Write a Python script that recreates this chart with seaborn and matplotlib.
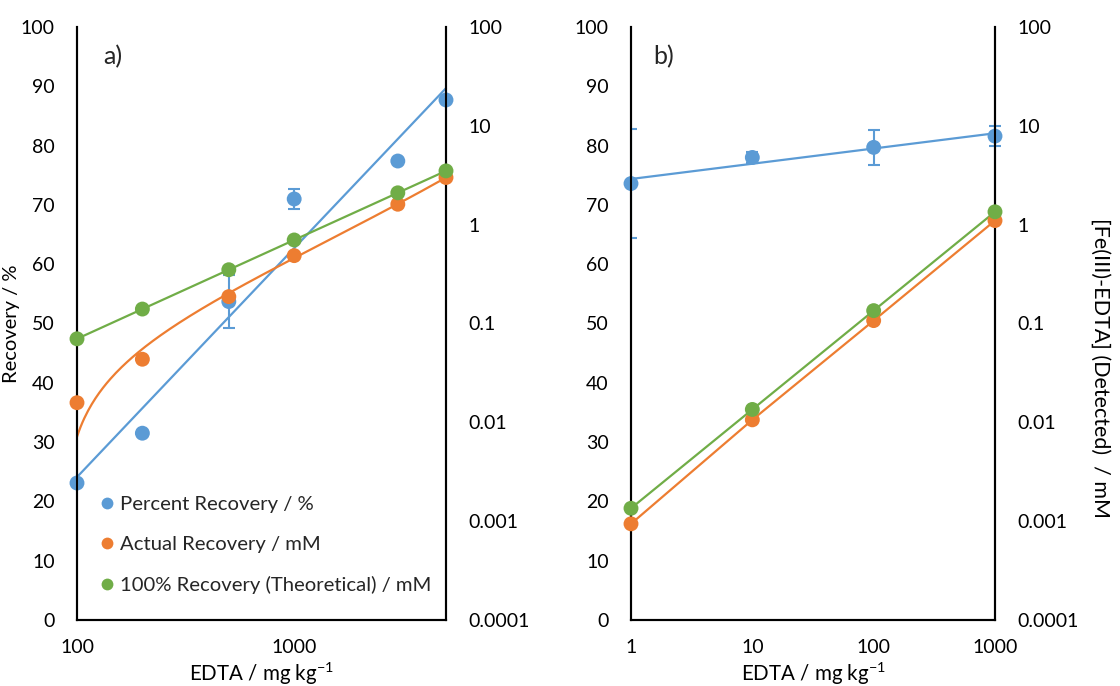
import numpy as np
import matplotlib
matplotlib.use("Agg")
import matplotlib.pyplot as plt
from matplotlib.lines import Line2D
from matplotlib.patches import Rectangle
from matplotlib.ticker import FixedLocator, FuncFormatter, NullLocator
import seaborn as sns

# ---- panel a: EDTA 100-5000 mg/kg ----
edta_a = [100, 200, 500, 1000, 3000, 5000]
pct_a = [23.1, 31.5, 53.7, 71.0, 77.4, 87.7]
pct_err_a = [0, 0, 4.5, 1.7, 0.5, 0]
actual_a = [0.0158, 0.0435, 0.187, 0.486, 1.61, 3.0]
theory_a = [0.070, 0.140, 0.350, 0.700, 2.10, 3.50]

# ---- panel b: EDTA 1-1000 mg/kg ----
edta_b = [1, 10, 100, 1000]
pct_b = [73.6, 78.0, 79.7, 81.6]
pct_err_b = [9.2, 1.0, 3.0, 1.7]
actual_b = [0.00094, 0.0106, 0.107, 1.10]
theory_b = [0.00135, 0.0135, 0.135, 1.35]

left_ticks = list(range(0, 101, 10))
right_ticks = [0.0001, 0.001, 0.01, 0.1, 1, 10, 100]
xticks_a = [100, 1000]
xticks_b = [1, 10, 100, 1000]

BLUE = "#5B9BD5"
ORANGE = "#ED7D31"
GREEN = "#70AD47"

sns.set_theme(style="white")
plt.rcParams["font.family"] = ["Lato", "DejaVu Sans"]
plt.rcParams["mathtext.fontset"] = "custom"
plt.rcParams["mathtext.rm"] = "Lato"
plt.rcParams["mathtext.it"] = "Lato:italic"
FS = 14

fig = plt.figure(figsize=(11.2, 6.86), dpi=100)
W, H = 1120, 686


def make_axes(x0, x1):
    return fig.add_axes([x0 / W, (H - 620) / H, (x1 - x0) / W, 593 / H])


def log_trend(x, y, xs):
    k, c = np.polyfit(np.log(x), y, 1)
    return k * np.log(xs) + c


def style_pair(ax, ax2, xlim, xticks):
    ax.set_xscale("log")
    ax.set_xlim(*xlim)
    ax.set_ylim(0, 100)
    ax.yaxis.set_major_locator(FixedLocator(left_ticks))
    ax.xaxis.set_major_locator(FixedLocator(xticks))
    ax.xaxis.set_minor_locator(NullLocator())
    ax.xaxis.set_major_formatter(FuncFormatter(lambda v, p: f"{v:g}"))
    ax.tick_params(axis="y", length=0, pad=16, labelsize=FS, colors="black")
    ax.tick_params(axis="x", length=0, pad=14, labelsize=FS, colors="black")
    ax2.set_yscale("log")
    ax2.set_ylim(1e-4, 100)
    ax2.yaxis.set_major_locator(FixedLocator(right_ticks))
    ax2.yaxis.set_minor_locator(NullLocator())
    ax2.yaxis.set_major_formatter(FuncFormatter(lambda v, p: f"{v:g}"))
    ax2.tick_params(axis="y", length=0, pad=16, labelsize=FS, colors="black")
    for a in (ax, ax2):
        a.spines["top"].set_visible(False)
        for s in ("left", "right", "bottom"):
            a.spines[s].set_color("black")
            a.spines[s].set_linewidth(1.5)
    ax.set_xlabel("EDTA / mg kg$^{\\mathregular{-1}}$", fontsize=14.8, color="black", labelpad=3)


def draw_percent(ax, x, y, err):
    xs = np.geomspace(min(x), max(x), 200)
    ax.plot(xs, log_trend(x, y, xs), color=BLUE, lw=1.6, zorder=2, clip_on=False)
    sel = [i for i, e in enumerate(err) if e > 0]
    eb = ax.errorbar([x[i] for i in sel], [y[i] for i in sel], yerr=[err[i] for i in sel],
                     fmt="none", ecolor=BLUE, elinewidth=1.5, capsize=4.5, capthick=1.5, zorder=3)
    # caps are trimmed at the left spine only
    clip = Rectangle((-0.004, -0.1), 1.2, 1.2, transform=ax.transAxes)
    for art in eb.get_children():
        art.set_clip_path(clip)
    sns.scatterplot(x=x, y=y, ax=ax, color=BLUE, s=115, edgecolor="none", zorder=4,
                    legend=False, clip_on=False)


def point_line(ax, x, y, color, z, line=True):
    if line:
        sns.lineplot(x=x, y=y, ax=ax, color=color, lw=1.6, zorder=z, legend=False)
    sns.scatterplot(x=x, y=y, ax=ax, color=color, s=115, edgecolor="none", zorder=z + 2,
                    legend=False, clip_on=False)


# ---------- panel a ----------
ax_a = make_axes(77, 446)
ax_a2 = ax_a.twinx()
draw_percent(ax_a, edta_a, pct_a, pct_err_a)

xs_a = np.geomspace(min(edta_a), max(edta_a), 200)
quad = np.polyval(np.polyfit(edta_a, actual_a, 2), xs_a)
ax_a2.plot(xs_a, quad, color=ORANGE, lw=1.6, zorder=2)
point_line(ax_a2, edta_a, actual_a, ORANGE, 2, line=False)
point_line(ax_a2, edta_a, theory_a, GREEN, 3)
style_pair(ax_a, ax_a2, (100, 5000), xticks_a)
ax_a.set_ylabel("Recovery / %", fontsize=14.5, color="black")
ax_a.yaxis.set_label_coords(-0.155, 0.5)
ax_a2.set_ylabel("")
ax_a.text(0.07, 0.97, "a)", transform=ax_a.transAxes, fontsize=18, va="top", ha="left")

handles = [Line2D([], [], marker="o", ls="none", color=c, markersize=8.5, markeredgewidth=0)
           for c in (BLUE, ORANGE, GREEN)]
labels = ["Percent Recovery / %", "Actual Recovery / mM", "100% Recovery (Theoretical) / mM"]
ax_a2.legend(handles, labels, loc="upper left", bbox_to_anchor=(101 / W, 1 - 496 / H),
             bbox_transform=fig.transFigure, frameon=False, fontsize=14.6,
             handlelength=0.6, handletextpad=0.35, labelspacing=1.12, borderpad=0, borderaxespad=0)

# ---------- panel b ----------
ax_b = make_axes(631, 995)
ax_b2 = ax_b.twinx()
draw_percent(ax_b, edta_b, pct_b, pct_err_b)
point_line(ax_b2, edta_b, actual_b, ORANGE, 2)
point_line(ax_b2, edta_b, theory_b, GREEN, 3)
style_pair(ax_b, ax_b2, (1, 1000), xticks_b)
ax_b.set_ylabel("")
ax_b2.set_ylabel("")
ax_b.text(0.06, 0.97, "b)", transform=ax_b.transAxes, fontsize=18, va="top", ha="left")
fig.text(1100 / W, 1 - 368 / H, "[Fe(III)-EDTA] (Detected)  / mM", rotation=270,
         fontsize=15.5, ha="center", va="center", color="black")

fig.savefig("out.png", dpi=100)
